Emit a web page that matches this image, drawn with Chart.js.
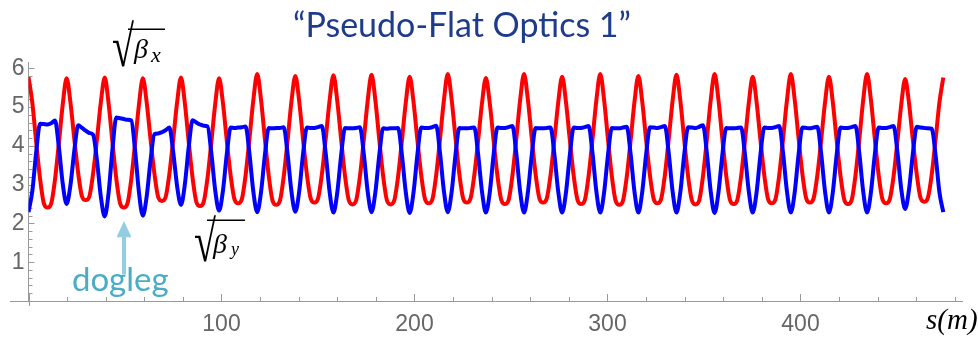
<!DOCTYPE html>
<html>
<head>
<meta charset="utf-8">
<script src="https://cdn.jsdelivr.net/npm/chart.js@4.4.1/dist/chart.umd.min.js"></script>
<style>
  html, body { margin: 0; padding: 0; background: #fff; }
</style>
</head>
<body>
<canvas id="betaChart" width="978" height="340"></canvas>
<script>
// lattice points along the line (red peak / blue trough), s in m
const cellStart = [0, 19.75, 39.5, 59.25, 79, 98.75, 118.5, 138.25, 158, 177.75, 197.5, 217.25,
  237, 256.75, 276.5, 296.25, 316, 335.75, 355.5, 375.25, 395, 414.75, 434.5, 454.25, 474];
// where the curves were read inside each cell (m after the cell start)
const cellOffsets = [0, 2, 4, 6, 8, 9.875, 11.75, 13.75, 15.75, 17.75];

// sqrt(beta_x), one row per cell, last value at s = 474
const sqrtBetaX = [
  5.77, 5.10, 4.09, 3.15, 2.51, 2.41, 2.51, 3.14, 4.08, 5.07,
  5.74, 5.11, 4.17, 3.29, 2.69, 2.60, 2.69, 3.30, 4.18, 5.13,
  5.76, 5.09, 4.09, 3.15, 2.51, 2.41, 2.51, 3.14, 4.08, 5.07,
  5.74, 5.11, 4.16, 3.28, 2.67, 2.58, 2.67, 3.28, 4.17, 5.12,
  5.76, 5.10, 4.11, 3.18, 2.55, 2.45, 2.55, 3.17, 4.10, 5.08,
  5.74, 5.10, 4.13, 3.23, 2.62, 2.52, 2.62, 3.25, 4.19, 5.18,
  5.85, 5.18, 4.17, 3.22, 2.58, 2.48, 2.58, 3.21, 4.14, 5.14,
  5.80, 5.15, 4.17, 3.26, 2.64, 2.54, 2.64, 3.26, 4.18, 5.16,
  5.82, 5.15, 4.16, 3.22, 2.59, 2.49, 2.59, 3.22, 4.16, 5.16,
  5.83, 5.16, 4.16, 3.22, 2.59, 2.49, 2.59, 3.21, 4.14, 5.12,
  5.78, 5.13, 4.15, 3.24, 2.62, 2.52, 2.62, 3.25, 4.19, 5.18,
  5.85, 5.19, 4.20, 3.27, 2.64, 2.54, 2.64, 3.25, 4.15, 5.11,
  5.75, 5.10, 4.13, 3.22, 2.60, 2.50, 2.60, 3.24, 4.18, 5.18,
  5.85, 5.19, 4.20, 3.27, 2.64, 2.54, 2.64, 3.25, 4.16, 5.13,
  5.78, 5.12, 4.14, 3.22, 2.60, 2.50, 2.60, 3.24, 4.18, 5.18,
  5.85, 5.18, 4.17, 3.22, 2.58, 2.48, 2.58, 3.21, 4.14, 5.14,
  5.80, 5.14, 4.16, 3.24, 2.62, 2.52, 2.62, 3.25, 4.18, 5.17,
  5.83, 5.16, 4.16, 3.22, 2.59, 2.49, 2.59, 3.23, 4.17, 5.18,
  5.85, 5.18, 4.18, 3.24, 2.60, 2.50, 2.60, 3.22, 4.14, 5.12,
  5.78, 5.13, 4.15, 3.24, 2.62, 2.52, 2.62, 3.25, 4.19, 5.18,
  5.85, 5.19, 4.20, 3.27, 2.64, 2.54, 2.64, 3.25, 4.16, 5.13,
  5.78, 5.12, 4.14, 3.22, 2.60, 2.50, 2.60, 3.24, 4.18, 5.18,
  5.85, 5.18, 4.19, 3.25, 2.62, 2.52, 2.62, 3.22, 4.12, 5.08,
  5.72, 5.09, 4.14, 3.26, 2.65, 2.56, 2.66, 3.26, 4.16, 5.12,
  5.76
];

// sqrt(beta_y), same sample positions
const sqrtBetaY = [
  2.29, 2.84, 3.84, 4.57, 4.56, 4.55, 4.58, 4.65, 3.96, 3.02,
  2.50, 2.99, 3.88, 4.53, 4.46, 4.39, 4.33, 4.28, 3.61, 2.68,
  2.18, 2.79, 3.91, 4.73, 4.71, 4.69, 4.67, 4.65, 3.87, 2.79,
  2.20, 2.70, 3.63, 4.30, 4.32, 4.35, 4.40, 4.47, 3.83, 2.96,
  2.48, 3.00, 3.96, 4.66, 4.60, 4.55, 4.52, 4.50, 3.81, 2.85,
  2.33, 2.84, 3.79, 4.47, 4.46, 4.47, 4.48, 4.50, 3.79, 2.82,
  2.29, 2.81, 3.77, 4.46, 4.45, 4.46, 4.46, 4.48, 3.78, 2.82,
  2.30, 2.82, 3.78, 4.47, 4.46, 4.46, 4.48, 4.51, 3.80, 2.82,
  2.28, 2.80, 3.76, 4.46, 4.45, 4.45, 4.46, 4.48, 3.78, 2.82,
  2.29, 2.81, 3.76, 4.45, 4.44, 4.45, 4.45, 4.46, 3.76, 2.80,
  2.27, 2.80, 3.77, 4.47, 4.46, 4.46, 4.48, 4.52, 3.80, 2.83,
  2.29, 2.81, 3.77, 4.46, 4.45, 4.45, 4.46, 4.47, 3.77, 2.81,
  2.28, 2.80, 3.77, 4.47, 4.46, 4.46, 4.48, 4.51, 3.80, 2.82,
  2.28, 2.80, 3.76, 4.46, 4.45, 4.45, 4.46, 4.47, 3.77, 2.81,
  2.28, 2.80, 3.77, 4.47, 4.46, 4.46, 4.48, 4.51, 3.80, 2.82,
  2.28, 2.80, 3.76, 4.46, 4.45, 4.45, 4.47, 4.49, 3.78, 2.81,
  2.28, 2.81, 3.77, 4.48, 4.47, 4.46, 4.48, 4.51, 3.80, 2.82,
  2.28, 2.81, 3.77, 4.48, 4.47, 4.46, 4.49, 4.53, 3.81, 2.82,
  2.27, 2.80, 3.76, 4.46, 4.45, 4.45, 4.46, 4.47, 3.77, 2.81,
  2.28, 2.80, 3.77, 4.47, 4.46, 4.46, 4.48, 4.51, 3.80, 2.82,
  2.28, 2.80, 3.77, 4.47, 4.46, 4.45, 4.47, 4.49, 3.78, 2.81,
  2.28, 2.80, 3.77, 4.47, 4.46, 4.46, 4.48, 4.51, 3.80, 2.82,
  2.28, 2.80, 3.77, 4.47, 4.46, 4.46, 4.48, 4.51, 3.83, 2.87,
  2.37, 2.88, 3.81, 4.49, 4.47, 4.46, 4.45, 4.44, 3.76, 2.80,
  2.29
];

const xTickLabels = [100, 200, 300, 400];
const yTickLabels = [1, 2, 3, 4, 5, 6];

// s of every sample
const sPos = [];
cellStart.forEach((s0, k) => {
  if (k < cellStart.length - 1) cellOffsets.forEach(d => sPos.push(s0 + d));
  else sPos.push(s0);
});
const toPoints = vals => vals.map((v, i) => ({ x: sPos[i], y: v }));

const axisGrey = '#9a9a9a';

// Mathematica style ticks pointing into the plot
const innerTicks = {
  id: 'innerTicks',
  beforeDatasetsDraw(chart) {
    const { ctx, scales: { x, y } } = chart;
    ctx.save();
    ctx.strokeStyle = axisGrey;
    ctx.lineWidth = 1;
    ctx.beginPath();
    x.ticks.forEach(t => {
      const px = Math.round(x.getPixelForValue(t.value)) + 0.5;
      const len = t.value % 100 === 0 ? 7 : 4;
      ctx.moveTo(px, y.bottom);
      ctx.lineTo(px, y.bottom - len);
    });
    y.ticks.forEach(t => {
      const py = Math.round(y.getPixelForValue(t.value)) + 0.5;
      const len = Math.abs(t.value - Math.round(t.value)) < 1e-6 ? 6 : 4;
      ctx.moveTo(x.left, py);
      ctx.lineTo(x.left + len, py);
    });
    // axes run a little past the origin
    ctx.moveTo(10, Math.round(y.bottom) + 0.5);
    ctx.lineTo(x.left, Math.round(y.bottom) + 0.5);
    ctx.moveTo(Math.round(x.left) + 0.5, y.bottom);
    ctx.lineTo(Math.round(x.left) + 0.5, y.bottom + 5);
    ctx.stroke();
    ctx.restore();
  }
};

// radical sign stretched to the height of the reference
function radical(ctx, left, bottom) {
  ctx.save();
  ctx.font = '40px "Liberation Serif"';
  ctx.translate(left, bottom);
  ctx.scale(1, 1.45);
  ctx.fillText('\u221A', 0, 0);
  ctx.restore();
}

const labels = {
  id: 'labels',
  afterDraw(chart) {
    const { ctx, scales: { x, y } } = chart;
    ctx.save();
    ctx.textBaseline = 'alphabetic';

    // title
    ctx.fillStyle = '#1f3b8c';
    ctx.font = '34px Lato';
    ctx.textAlign = 'center';
    ctx.fillText('\u201CPseudo-Flat Optics 1\u201D', 462, 37);

    ctx.textAlign = 'left';
    ctx.fillStyle = '#000';
    // sqrt(beta_x)
    radical(ctx, 112, 66);
    ctx.fillRect(128, 28.5, 37, 1.5);
    ctx.font = 'italic 28px "Liberation Serif"';
    ctx.fillText('\u03B2', 134, 58);
    ctx.font = 'italic 22px "Liberation Serif"';
    ctx.fillText('x', 151, 62);
    // sqrt(beta_y)
    radical(ctx, 194, 261);
    ctx.fillRect(207, 219.5, 38, 1.5);
    ctx.font = 'italic 28px "Liberation Serif"';
    ctx.fillText('\u03B2', 213, 253);
    ctx.font = 'italic 18px "Liberation Serif"';
    ctx.fillText('y', 231, 255);

    // s(m)
    ctx.font = 'italic 29px "Liberation Serif"';
    ctx.fillText('s(m)', 926, 329);

    // dogleg arrow
    const ax = Math.round(x.getPixelForValue(49.5));
    const tip = y.getPixelForValue(2.06);
    const base = y.getPixelForValue(1.64);
    const tail = y.getPixelForValue(0.68);
    ctx.fillStyle = '#92cde4';
    ctx.fillRect(ax - 2, base - 1, 4, tail - base + 1);
    ctx.beginPath();
    ctx.moveTo(ax, tip);
    ctx.lineTo(ax - 7.5, base);
    ctx.lineTo(ax + 7.5, base);
    ctx.closePath();
    ctx.fill();
    ctx.fillStyle = '#4bacc6';
    ctx.font = '33px Lato';
    ctx.fillText('dogleg', 72, 291);
    ctx.restore();
  }
};

new Chart(document.getElementById('betaChart'), {
  type: 'line',
  data: {
    datasets: [
      {
        label: 'sqrt beta x',
        data: toPoints(sqrtBetaX),
        borderColor: '#ff0000',
        borderWidth: 4,
        pointRadius: 0,
        cubicInterpolationMode: 'monotone',
        borderJoinStyle: 'round',
        order: 2
      },
      {
        label: 'sqrt beta y',
        data: toPoints(sqrtBetaY),
        borderColor: '#0000ff',
        borderWidth: 4,
        pointRadius: 0,
        cubicInterpolationMode: 'monotone',
        borderJoinStyle: 'round',
        order: 1
      }
    ]
  },
  options: {
    responsive: false,
    animation: false,
    devicePixelRatio: 1,
    layout: { padding: { left: 0, right: 15.4, top: 62, bottom: 0 } },
    plugins: {
      legend: { display: false },
      tooltip: { enabled: false }
    },
    scales: {
      x: {
        type: 'linear',
        min: 0,
        max: 484,
        afterFit(scale) { scale.height = 39; },
        grid: { display: false, drawTicks: false },
        border: { display: true, color: axisGrey, width: 1 },
        ticks: {
          stepSize: 20,
          autoSkip: false,
          includeBounds: false,
          maxRotation: 0,
          padding: 10,
          color: '#666',
          font: { family: '"Liberation Sans"', size: 23 },
          callback: v => xTickLabels.includes(v) ? String(v) : ''
        }
      },
      y: {
        type: 'linear',
        min: 0,
        max: 6.16,
        afterFit(scale) { scale.width = 28.5; },
        grid: { display: false, drawTicks: false },
        border: { display: true, color: axisGrey, width: 1 },
        ticks: {
          stepSize: 0.2,
          autoSkip: false,
          includeBounds: false,
          padding: 4,
          color: '#666',
          font: { family: '"Liberation Sans"', size: 23 },
          callback: v => {
            const r = Math.round(v);
            return Math.abs(v - r) < 1e-6 && yTickLabels.includes(r) ? String(r) : '';
          }
        }
      }
    }
  },
  plugins: [innerTicks, labels]
});
</script>
</body>
</html>
